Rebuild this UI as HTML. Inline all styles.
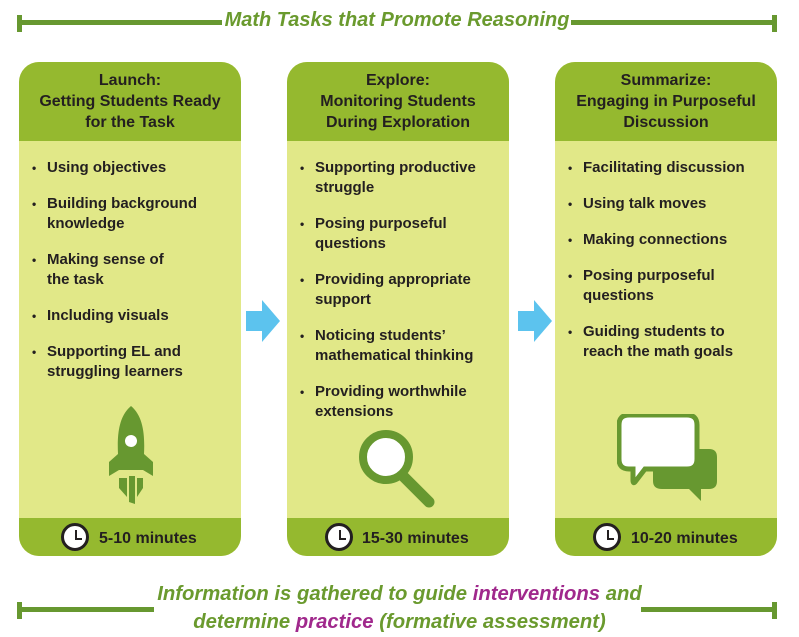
<!DOCTYPE html>
<html><head><style>
body{margin:0;width:799px;height:637px;background:#fff;position:relative;font-family:"Liberation Sans",sans-serif;overflow:hidden}
.ln{position:absolute;height:5px;background:#679830}
.tk{position:absolute;width:5px;height:17px;background:#679830}
.ttl{position:absolute;color:#6a9a2e;font-style:italic;font-weight:bold;white-space:nowrap}
.card{position:absolute;top:62px;width:222px;height:494px;border-radius:20px;background:#e1e888;overflow:hidden}
.hd{position:absolute;top:0;left:0;right:0;height:79px;background:#95b92f;text-align:center;font-weight:bold;font-size:16px;line-height:21px;color:#231f20;padding-top:8px;box-sizing:border-box}
.ft{position:absolute;bottom:0;left:0;right:0;height:38px;background:#95b92f;font-weight:bold;font-size:16px;color:#231f20}
.ft span{position:absolute;top:12px}
.clk{position:absolute;top:5px;width:28px;height:28px;border:3px solid #231f20;border-radius:50%;background:#fff;box-sizing:border-box}
.clk:before{content:"";position:absolute;left:11px;top:4px;width:2px;height:9px;background:#231f20}
.clk:after{content:"";position:absolute;left:11px;top:12px;width:7px;height:2px;background:#231f20}
ul{position:absolute;top:96px;left:0;margin:0;padding:0 0 0 28px;list-style:none;font-size:15px;font-weight:bold;color:#231f20;line-height:20px}
li{position:relative;margin-bottom:16px}
li:before{content:"•";position:absolute;left:-15px;font-size:12px}
.arr{position:absolute;top:300px}
</style></head><body>
<div class="tk" style="left:17px;top:15px"></div>
<div class="ln" style="left:17px;top:20px;width:205px"></div>
<div class="ln" style="left:571px;top:20px;width:206px"></div>
<div class="ttl" style="left:224px;top:9px;width:346px;text-align:center;font-size:20px;background:#fff">Math Tasks that Promote Reasoning</div>
<div class="tk" style="left:772px;top:15px"></div>

<div class="card" style="left:19px">
<div class="hd">Launch:<br>Getting Students Ready<br>for the Task</div>
<ul><li>Using objectives</li><li>Building background<br>knowledge</li><li>Making sense of<br>the task</li><li>Including visuals</li><li>Supporting EL and<br>struggling learners</li></ul>
<svg style="position:absolute;left:90px;top:342px" width="44" height="100" viewBox="0 0 44 100">
<path d="M22 2 C10 12 8 30 9 50 L0 58 L0 72 L10 66 L34 66 L44 72 L44 58 L35 50 C36 30 34 12 22 2Z" fill="#679830"/>
<circle cx="22" cy="37" r="6" fill="#fff"/>
<path d="M10 74 L18 74 L18 93 L10 84Z M20 72 L26 72 L26 100 L20 98Z M28 74 L34 74 L34 84 L28 93Z" fill="#679830"/>
</svg>
<div class="ft"><div class="clk" style="left:42px"></div><span style="left:80px">5-10 minutes</span></div>
</div>

<svg class="arr" style="left:246px" width="34" height="42"><path d="M0 11 H16 V0 L34 21 L16 42 V31 H0Z" fill="#5cc3ee"/></svg>

<div class="card" style="left:287px">
<div class="hd">Explore:<br>Monitoring Students<br>During Exploration</div>
<ul><li>Supporting productive<br>struggle</li><li>Posing purposeful<br>questions</li><li>Providing appropriate<br>support</li><li>Noticing students’<br>mathematical thinking</li><li>Providing worthwhile<br>extensions</li></ul>
<svg style="position:absolute;left:72px;top:368px" width="80" height="80">
<circle cx="27" cy="27" r="23" fill="#fff" stroke="#679830" stroke-width="8"/>
<path d="M44 46 L70 72" stroke="#679830" stroke-width="11" stroke-linecap="round"/>
</svg>
<div class="ft"><div class="clk" style="left:38px"></div><span style="left:75px">15-30 minutes</span></div>
</div>

<svg class="arr" style="left:518px" width="34" height="42"><path d="M0 11 H16 V0 L34 21 L16 42 V31 H0Z" fill="#5cc3ee"/></svg>

<div class="card" style="left:555px">
<div class="hd">Summarize:<br>Engaging in Purposeful<br>Discussion</div>
<ul><li>Facilitating discussion</li><li>Using talk moves</li><li>Making connections</li><li>Posing purposeful<br>questions</li><li>Guiding students to<br>reach the math goals</li></ul>
<svg style="position:absolute;left:62px;top:352px" width="102" height="90">
<path d="M36 35 H92 Q100 35 100 43 V67 Q100 75 92 75 H84 V87 L72 75 H45 Q36 75 36 67Z" fill="#679830"/>
<path d="M12 1 H70 Q80 1 80 11 V45 Q80 55 70 55 H28 L18 68 Q16 70 16 66 V55 H12 Q2 55 2 45 V11 Q2 1 12 1Z" fill="#fff" stroke="#679830" stroke-width="5"/>
</svg>
<div class="ft"><div class="clk" style="left:38px"></div><span style="left:76px">10-20 minutes</span></div>
</div>

<div class="tk" style="left:17px;top:602px"></div>
<div class="ln" style="left:17px;top:607px;width:137px"></div>
<div class="ln" style="left:641px;top:607px;width:136px"></div>
<div class="tk" style="left:772px;top:602px"></div>
<div class="ttl" style="left:0;width:799px;text-align:center;top:580px;font-size:20.3px;line-height:28px">Information is gathered to guide <span style="color:#a0288c">interventions</span> and<br>determine <span style="color:#a0288c">practice</span> (formative assessment)</div>
</body></html>
